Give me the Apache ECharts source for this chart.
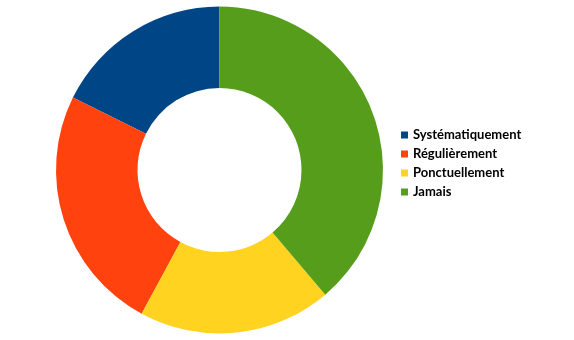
<!DOCTYPE html>
<html><head><meta charset="utf-8">
<script src="https://cdn.jsdelivr.net/npm/echarts@6/dist/echarts.min.js"></script>
<style>html,body{margin:0;padding:0;background:#fff;}#c{width:574px;height:340px;}</style>
</head><body><div id="c"></div>
<script>
const categories = ['Systématiquement', 'Régulièrement', 'Ponctuellement', 'Jamais'];
const values = [17.7, 24.4, 19.1, 38.8];
const colors = ['#004586', '#FF420E', '#FFD320', '#579D1C'];

const chart = echarts.init(document.getElementById('c'), null, {renderer: 'canvas'});
chart.setOption({
  animation: false,
  backgroundColor: '#ffffff',
  color: colors,
  legend: {
    orient: 'vertical',
    left: 396,
    top: 123,
    icon: 'rect',
    itemWidth: 7,
    itemHeight: 7,
    itemGap: 5,
    data: categories,
    textStyle: {color: '#000', fontFamily: 'Lato', fontWeight: 'bold', fontSize: 13, lineHeight: 14}
  },
  series: [{
    type: 'pie',
    center: [219.5, 170],
    radius: [82, 163.5],
    startAngle: 90,
    clockwise: false,
    label: {show: false},
    labelLine: {show: false},
    emphasis: {disabled: true},
    itemStyle: {borderWidth: 0},
    data: categories.map((c, i) => ({name: c, value: values[i]}))
  }]
});
</script></body></html>
